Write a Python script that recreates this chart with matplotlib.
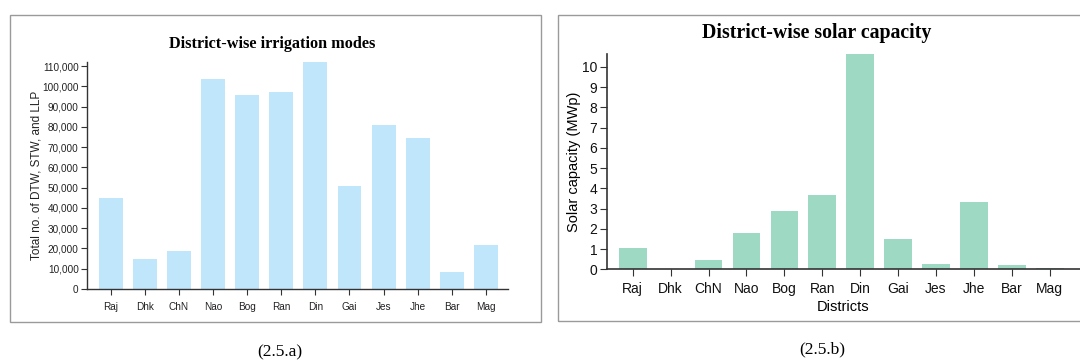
import matplotlib.pyplot as plt
from matplotlib.patches import Rectangle
from matplotlib.ticker import FuncFormatter

plt.rcParams['font.family'] = ['Liberation Sans', 'DejaVu Sans']

districts = ['Raj', 'Dhk', 'ChN', 'Nao', 'Bog', 'Ran', 'Din', 'Gai', 'Jes', 'Jhe', 'Bar', 'Mag']
irrigation = [45000, 15000, 18700, 103500, 95800, 97300, 112000, 51000, 81000, 74700, 8400, 21600]
solar_mwp = [1.05, 0.0, 0.46, 1.8, 2.88, 3.68, 10.64, 1.5, 0.26, 3.33, 0.21, 0.06]

fig = plt.figure(figsize=(10.8, 3.63), dpi=100)
W, H = 1080, 363

def px_rect(x0, y0, x1, y1):
    # pixel box (top-left origin) -> figure fraction rect
    return [x0 / W, 1 - y1 / H, (x1 - x0) / W, (y1 - y0) / H]

# panel frames
for x0, y0, x1, y1 in [(10, 15, 541, 322), (558, 15, 1085, 321)]:
    fig.patches.append(Rectangle((x0 / W, 1 - y1 / H), (x1 - x0) / W, (y1 - y0) / H,
                                 transform=fig.transFigure, fill=False,
                                 edgecolor='#9a9a9a', linewidth=1.0))

axis_col = '#333333'

# (a) irrigation modes
ax1 = fig.add_axes(px_rect(87, 62, 508, 289))
x = range(len(districts))
ax1.bar(x, irrigation, width=0.7, color='#c0e6fb')
ax1.set_xlim(-0.7, 11.65)
ax1.set_ylim(0, 112000)
ax1.set_yticks(range(0, 110001, 10000))
ax1.yaxis.set_major_formatter(FuncFormatter(lambda v, p: f'{int(v):,}'))
ax1.set_xticks(list(x))
ax1.set_xticklabels(districts)
for s in ['top', 'right']:
    ax1.spines[s].set_visible(False)
for s in ['left', 'bottom']:
    ax1.spines[s].set_color(axis_col)
    ax1.spines[s].set_linewidth(1.0)
ax1.tick_params(axis='both', labelsize=7.2, length=4, color=axis_col, pad=2, labelcolor='#222222')
ax1.tick_params(axis='x', pad=5)
ax1.set_ylabel('Total no. of DTW, STW, and LLP', fontsize=8.5, color='#222222', labelpad=0)
fig.text(272 / W, 1 - 44 / H, 'District-wise irrigation modes', ha='center', va='center',
         family='Liberation Serif', fontweight='bold', fontsize=11.7)

# (b) solar capacity
ax2 = fig.add_axes(px_rect(607, 54, 1080, 269.3))
ax2.bar(x, solar_mwp, width=0.73, color='#9dd9c3')
ax2.set_xlim(-0.68, 11.8)
ax2.set_ylim(0, 10.64)
ax2.set_yticks(range(0, 11))
ax2.set_xticks(list(x))
ax2.set_xticklabels(districts)
for s in ['top', 'right']:
    ax2.spines[s].set_visible(False)
for s in ['left', 'bottom']:
    ax2.spines[s].set_color(axis_col)
    ax2.spines[s].set_linewidth(1.2)
ax2.tick_params(axis='both', labelsize=10, length=5, color=axis_col, pad=2, labelcolor='#111111')
ax2.tick_params(axis='x', pad=4)
ax2.set_xlabel('Districts', fontsize=10.5, labelpad=3)
ax2.set_ylabel('Solar capacity (MWp)', fontsize=10.5, labelpad=1)
fig.text(817 / W, 1 - 33 / H, 'District-wise solar capacity', ha='center', va='center',
         family='Liberation Serif', fontweight='bold', fontsize=14.3)

# captions
fig.text(280 / W, 1 - 352 / H, '(2.5.a)', ha='center', va='center',
         family='Liberation Serif', fontsize=12.5)
fig.text(822 / W, 1 - 349 / H, '(2.5.b)', ha='center', va='center',
         family='Liberation Serif', fontsize=12.5)

fig.savefig('out.png', dpi=100)
